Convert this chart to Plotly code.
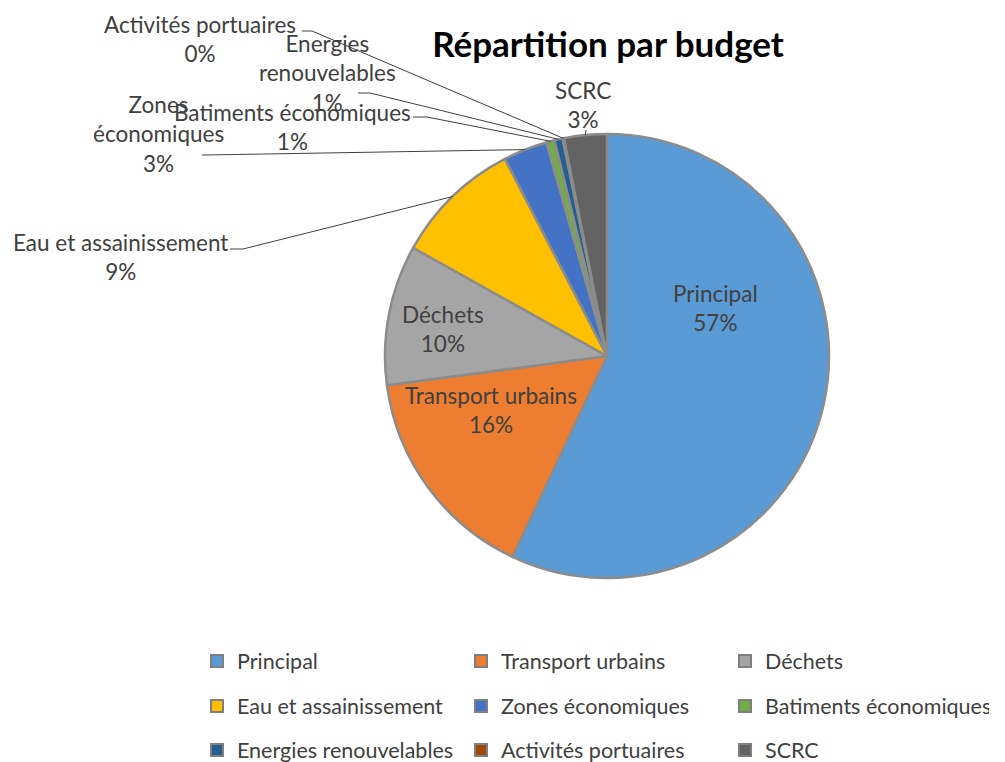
import math
import plotly.graph_objects as go

# ---------------- data ----------------
labels = ["Principal", "Transport urbains", "Déchets", "Eau et assainissement",
          "Zones économiques", "Batiments économiques", "Energies renouvelables",
          "Activités portuaires", "SCRC"]
values = [57.0, 15.9, 10.2, 9.3, 3.2, 0.6, 0.6, 0.1, 3.1]
colors = ["#5B9BD5", "#ED7D31", "#A5A5A5", "#FFC000", "#4472C4",
          "#70AD47", "#255E91", "#9E480E", "#636363"]
label_lines = ["Principal", "Transport urbains", "Déchets", "Eau et assainissement",
               "Zones<br>économiques", "Batiments économiques",
               "Energies<br>renouvelables", "Activités portuaires", "SCRC"]
title_text = "Répartition par budget"

# ---------------- layout geometry (pixels) ----------------
W, H = 1005, 762
CX, CY, R = 607, 356, 222
FONT = "Lato, 'Open Sans', sans-serif"
TXT = "#404040"

def px(x):
    return x / W

def py(y):
    return 1 - y / H

# label centre positions and leader line starts (start point, bend x)
label_pos = [(715, 308), (491, 410), (443, 329), (120, 257), (158, 134),
             (292, 127), (327, 73), (200, 39), (583, 105)]
leaders = {3: (230, 249, 243), 4: (202, 155, 206), 5: (413, 117, 427),
           6: (358, 93, 370), 7: (302, 31, 312), 8: (586, 130, 586)}

fig = go.Figure()
fig.add_trace(go.Pie(
    labels=labels, values=values, sort=False, direction="clockwise", rotation=0,
    marker=dict(colors=colors, line=dict(color="#8C8C8C", width=2.5)),
    textinfo="none", hoverinfo="label+percent", showlegend=False,
    domain=dict(x=[px(CX - R), px(CX + R)], y=[py(CY + R), py(CY - R)]),
))

total = sum(values)
annotations = []
shapes = []
cum = 0.0
for i, v in enumerate(values):
    mid = (cum + v / 2) / total * 2 * math.pi
    cum += v
    pct = round(v / total * 100)
    lx, ly = label_pos[i]
    annotations.append(dict(
        x=px(lx), y=py(ly), xref="paper", yref="paper", showarrow=False,
        text=f"{label_lines[i]}<br>{pct}%", align="center",
        xanchor="center", yanchor="middle",
        font=dict(family=FONT, size=22.5, color=TXT)))
    if i in leaders:
        sx, sy, bx = leaders[i]
        ex = CX + R * math.sin(mid)
        ey = CY - R * math.cos(mid)
        path = f"M {px(sx)},{py(sy)} L {px(bx)},{py(sy)} L {px(ex)},{py(ey)}"
        shapes.append(dict(type="path", path=path, xref="paper", yref="paper",
                           line=dict(color="#404040", width=1)))

# legend entries (three rows, three columns)
for i, lab in enumerate(labels):
    row = i // 3
    fig.add_trace(go.Scatter(
        x=[None], y=[None], mode="markers", name=lab,
        marker=dict(symbol="square", size=12, color=colors[i],
                    line=dict(color="#7F7F7F", width=2)),
        legend="legend" if row == 0 else f"legend{row + 1}",
        hoverinfo="skip"))

leg_common = dict(orientation="h", xanchor="left", yanchor="middle",
                  entrywidth=219, entrywidthmode="pixels",
                  bgcolor="rgba(0,0,0,0)", traceorder="normal",
                  font=dict(family=FONT, size=21.5, color=TXT), itemwidth=30)
rows_y = [661, 706, 750]
leg_x = px(197)

fig.update_layout(
    width=W, height=H,
    margin=dict(l=0, r=0, t=0, b=0, autoexpand=False),
    paper_bgcolor="white", plot_bgcolor="white",
    title=dict(text=f"<b>{title_text}</b>", x=px(608), y=py(45),
               xanchor="center", yanchor="middle", xref="paper", yref="container",
               font=dict(family=FONT, size=35, color="#000000")),
    xaxis=dict(visible=False), yaxis=dict(visible=False),
    annotations=annotations, shapes=shapes,
    legend=dict(x=leg_x, y=py(rows_y[0]), **leg_common),
    legend2=dict(x=leg_x, y=py(rows_y[1]), **leg_common),
    legend3=dict(x=leg_x, y=py(rows_y[2]), **leg_common),
    showlegend=True,
)

fig.write_html("out.html",
               config={"displayModeBar": False},
               post_script="document.body.style.margin='0';"
                           "document.body.style.overflow='hidden';")
